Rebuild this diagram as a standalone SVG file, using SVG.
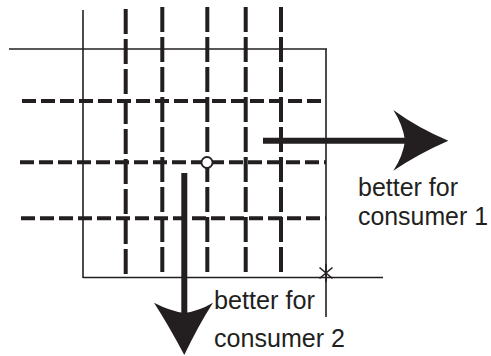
<svg xmlns="http://www.w3.org/2000/svg" width="491" height="356" viewBox="0 0 491 356">
<style>
.thin{stroke:#231f20;stroke-width:1.6;fill:none}
.vd{stroke:#231f20;stroke-width:4;stroke-dasharray:25 5;fill:none}
.hd{stroke:#231f20;stroke-width:4;stroke-dasharray:14 5;fill:none}
.shaft{stroke:#231f20;stroke-width:6;fill:none}
.head{fill:#231f20;stroke:none}
.lbl{font-family:"Liberation Sans",Arial,sans-serif;font-size:25px;fill:#231f20}
</style>
<rect width="491" height="356" fill="#fff"/>
<g id="grid">
<line class="thin" x1="83" y1="10" x2="83" y2="278"/>
<line class="thin" x1="9" y1="49" x2="327" y2="49"/>
<line class="thin" x1="326" y1="49" x2="326" y2="317"/>
<line class="thin" x1="83" y1="277.5" x2="383" y2="277.5"/>
<line class="vd" x1="125.7" y1="9" x2="125.7" y2="276"/>
<line class="vd" x1="162.3" y1="7" x2="162.3" y2="276"/>
<line class="vd" x1="207.3" y1="7" x2="207.3" y2="276"/>
<line class="vd" x1="245.7" y1="7" x2="245.7" y2="276"/>
<line class="vd" x1="281" y1="7" x2="281" y2="276"/>
<line class="hd" x1="22" y1="101" x2="326" y2="101"/>
<line class="hd" x1="20" y1="162.3" x2="326" y2="162.3"/>
<line class="hd" x1="21" y1="218.3" x2="326" y2="218.3"/>
</g>
<g id="point">
<circle cx="207" cy="162.5" r="5.5" fill="#fff" stroke="#231f20" stroke-width="1.8"/>
</g>
<g id="star">
<path class="thin" stroke-width="2.4" d="M326 264V282M319.5 267.5L332.5 278.5M319.5 278.5L332.5 267.5"/>
</g>
<g id="connectors">
<line class="shaft" x1="263" y1="140.7" x2="408" y2="140.7"/>
<path class="head" d="M448.3 140.7Q418 154 393.3 170.7Q403 156 405 140.7Q403 125 393.3 110Q418 128 448.3 140.7Z"/>
<line class="shaft" x1="184.3" y1="173" x2="184.3" y2="316"/>
<path class="head" d="M184.3 355Q169 326 154 302.7Q170 311 184.3 313Q199 311 213 302.7Q198 326 184.3 355Z"/>
</g>
<g id="label1">
<text class="lbl" x="358" y="196" textLength="100" lengthAdjust="spacingAndGlyphs">better for</text>
<text class="lbl" x="358" y="225" textLength="130" lengthAdjust="spacingAndGlyphs">consumer 1</text>
</g>
<g id="label2">
<text class="lbl" x="214" y="309" textLength="101" lengthAdjust="spacingAndGlyphs">better for</text>
<text class="lbl" x="214" y="347" textLength="131" lengthAdjust="spacingAndGlyphs">consumer 2</text>
</g>
</svg>
